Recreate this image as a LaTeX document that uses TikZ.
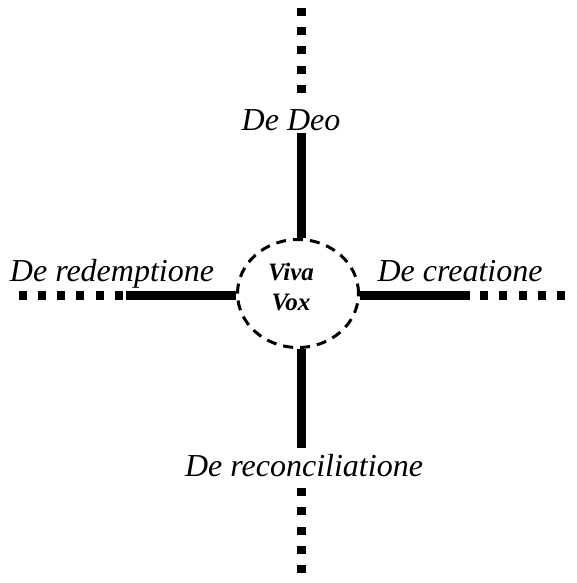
\documentclass[tikz,border=0pt]{standalone}
\usepackage{fontspec}
\setmainfont{Liberation Serif}
\usetikzlibrary{shapes.geometric}

\begin{document}
\begin{tikzpicture}[x=1pt,y=1pt,
        bar/.style={line width=9pt},
        dotbar/.style={line width=9pt,dash pattern=on 8pt off 11.3pt},
        lbl/.style={font=\fontsize{32}{38}\selectfont\itshape,inner sep=0pt,anchor=base}]
        \useasboundingbox (0,0) rectangle (577,583);

        % centre
        \node[ellipse,draw,line width=3pt,dash pattern=on 10pt off 7pt,
              minimum width=121pt,minimum height=108pt,inner sep=0pt] (viva) at (298,289.5) {};
        \node[font=\fontsize{25}{30}\selectfont\bfseries\itshape,align=center,inner sep=0pt]
              (vivatext) at (291,296) {Viva\\Vox};

        % labels
        \node[lbl] (deo) at (291,452) {De Deo};
        \node[lbl] (reconc) at (304,106) {De reconciliatione};
        \node[lbl] (redempt) at (112,301) {De redemptione};
        \node[lbl] (creat) at (460,301) {De creatione};

        % arm ends
        \coordinate (n1) at (301,450);
        \coordinate (n2) at (301,490);
        \coordinate (n0) at (301,583);
        \coordinate (s1) at (301,135);
        \coordinate (s2) at (301,95);
        \coordinate (s0) at (301,0);
        \coordinate (w1) at (126,287.5);
        \coordinate (w2) at (123,287.5);
        \coordinate (w0) at (14,287.5);
        \coordinate (e1) at (470,287.5);
        \coordinate (e2) at (480,287.5);
        \coordinate (e0) at (577,287.5);

        % upper arm
        \draw[bar] (n1) -- (n1 |- viva.north);
        \draw[dotbar] (n2) -- (n0);

        % lower arm
        \draw[bar] (s1) -- (s1 |- viva.south);
        \draw[dotbar] (s2) -- (s0);

        % left arm
        \draw[bar] (w1 -| viva.west) -- (w1);
        \draw[dotbar] (w2) -- (w0);

        % right arm
        \draw[bar] (e1 -| viva.east) -- (e1);
        \draw[dotbar] (e2) -- (e0);
    \end{tikzpicture}
\end{document}
